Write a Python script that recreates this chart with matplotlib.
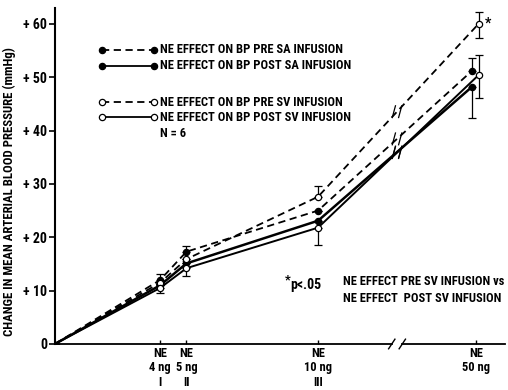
import matplotlib.pyplot as plt
import numpy as np

# dose positions on the plot (50 ng sits after the axis break)
x = [0, 4, 5, 10, 16]
xtick_labels = ['NE\n4 ng\nI', 'NE\n5 ng\nII', 'NE\n10 ng\nIII', 'NE\n50 ng']

pre_sa = [0, 12.0, 17.3, 25.0, 51.2]
post_sa = [0, 11.0, 15.1, 23.1, 48.2]
pre_sv = [0, 11.5, 15.9, 27.6, 60.0]
post_sv = [0, 10.5, 14.2, 21.8, 50.4]

# one-sided error bars as drawn (lower, upper)
pre_sa_err = [[0, 0, 0, 0, 0], [0, 1.2, 1.1, 0, 2.4]]
post_sa_err = [[0, 0, 0, 0, 5.9], [0, 0, 0, 0, 0]]
pre_sv_err = [[0, 0, 0, 0, 2.7], [0, 0, 0, 2.0, 2.2]]
post_sv_err = [[0, 1.0, 1.4, 3.2, 4.3], [0, 0, 0, 0, 3.8]]

yticks = [0, 10, 20, 30, 40, 50, 60]
ytick_labels = ['0', '+ 10', '+ 20', '+ 30', '+ 40', '+ 50', '+ 60']

plt.rcParams['font.family'] = ['Roboto Condensed', 'DejaVu Sans']
plt.rcParams['font.weight'] = 'bold'

fig = plt.figure(figsize=(5.08, 3.9), dpi=100)
ax = fig.add_axes([0.108, 0.118, 0.886, 0.862])
ax.set_xlim(0, 17.1)
ax.set_ylim(0, 63)

series = [
    (pre_sa, pre_sa_err, 'black', (0, (4, 2.5)), 1.3, -0.15),
    (post_sa, post_sa_err, 'black', '-', 1.8, -0.15),
    (pre_sv, pre_sv_err, 'white', (0, (4, 2.5)), 1.3, 0.1),
    (post_sv, post_sv_err, 'white', '-', 1.4, 0.1),
]
brk = 13.0
for ys, err, fc, ls, lw, dx in series:
    xs = np.array(x, dtype=float)
    xs[-1] += dx
    ax.plot(xs, ys, color='black', ls=ls, lw=lw, zorder=2)
    ax.errorbar(xs, ys, yerr=err, fmt='none', ecolor='black', elinewidth=0.9,
                capsize=3, capthick=0.9, zorder=3)
    ax.plot(xs[1:], ys[1:], 'o', ms=4.5, mfc=fc, mec='black', mew=0.9, zorder=4)
    # break marks on each line
    yb = np.interp(brk, xs, ys)
    for off in (-0.12, 0.12):
        ax.plot([brk + off - 0.06, brk + off + 0.06], [yb - 1.1, yb + 1.1],
                color='black', lw=0.9, zorder=5)

# axes styling
for s in ['top', 'right']:
    ax.spines[s].set_visible(False)
ax.spines['left'].set_linewidth(1.5)
ax.spines['bottom'].set_visible(False)
ax.plot([0, brk - 0.2], [0, 0], color='black', lw=1.3, clip_on=False, zorder=1)
ax.plot([brk + 0.2, 17.1], [0, 0], color='black', lw=1.3, clip_on=False, zorder=1)
for off in (-0.2, 0.2):
    ax.plot([brk + off - 0.12, brk + off + 0.12], [-0.9, 0.9], color='black',
            lw=1.0, clip_on=False)

ax.set_yticks(yticks)
ax.set_yticklabels(ytick_labels, fontsize=10)
ax.tick_params(axis='y', direction='out', length=4, width=1.2, pad=1.5)
ax.set_xticks(x[1:])
ax.set_xticklabels(xtick_labels, fontsize=9, linespacing=1.15)
ax.tick_params(axis='x', direction='in', length=3, width=1.0, pad=2)
fig.text(0.018, 0.51, 'CHANGE IN MEAN ARTERIAL BLOOD PRESSURE (mmHg)', fontsize=9.2,
         fontweight='bold', rotation=90, ha='center', va='center')

# legend drawn by hand
leg = [
    (55.1, 'black', (0, (4, 2.5)), 'NE EFFECT ON BP PRE SA INFUSION'),
    (52.1, 'black', '-', 'NE EFFECT ON BP POST SA INFUSION'),
    (45.3, 'white', (0, (4, 2.5)), 'NE EFFECT ON BP PRE SV INFUSION'),
    (42.5, 'white', '-', 'NE EFFECT ON BP POST SV INFUSION'),
]
for yy, fc, ls, lab in leg:
    ax.plot([1.8, 3.75], [yy, yy], color='black', ls=ls, lw=1.3)
    ax.plot([1.8, 3.75], [yy, yy], 'o', ms=4.5, mfc=fc, mec='black', mew=0.9)
    ax.text(4.0, yy, lab, fontsize=9, va='center', ha='left')
ax.text(4.0, 39.4, 'N = 6', fontsize=9, va='center', ha='left')

ax.text(16.35, 60.0, '*', fontsize=10, va='center', ha='left')
ax.text(8.72, 12.1, '*', fontsize=9, va='center', ha='left')
ax.text(8.93, 11.0, 'p<.05', fontsize=10, va='center', ha='left')
ax.text(10.95, 11.7, 'NE EFFECT PRE SV INFUSION vs', fontsize=9, va='center', ha='left')
ax.text(10.95, 8.5, 'NE EFFECT  POST SV INFUSION', fontsize=9, va='center', ha='left')

fig.savefig('out.png', dpi=100)
